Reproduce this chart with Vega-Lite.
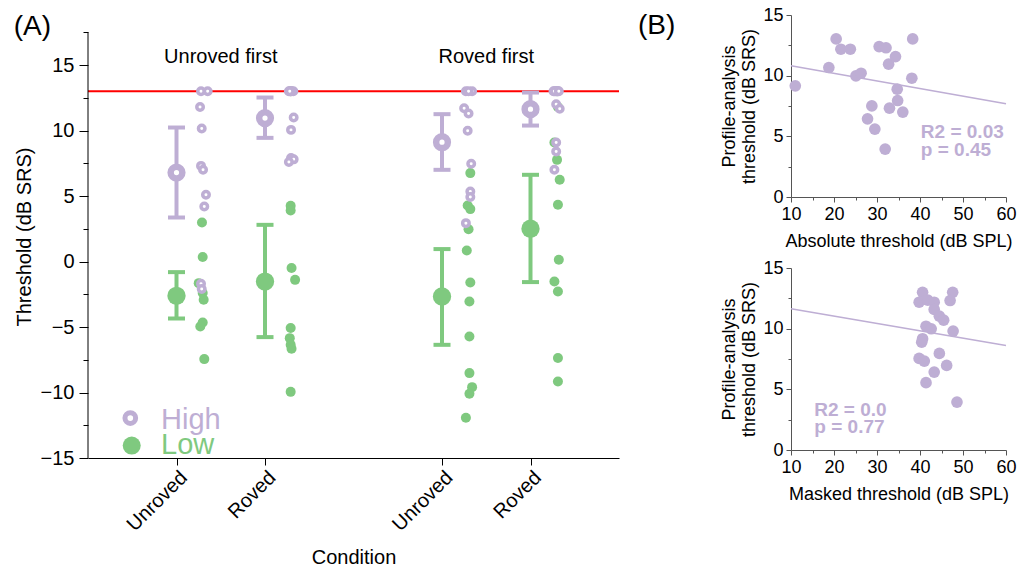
{
  "$schema": "https://vega.github.io/schema/vega-lite/v6.json",
  "padding": {"left": 13, "top": 6, "right": 2, "bottom": 2},
  "bounds": "flush",
  "spacing": 172,
  "config": {
    "font": "Liberation Sans",
    "view": {"stroke": null},
    "axis": {"grid": false, "labelFlush": false, "labelFont": "Liberation Sans", "titleFont": "Liberation Sans", "titleFontWeight": "normal"},
    "text": {"font": "Liberation Sans"}
  },
  "hconcat": [
    {
      "width": 531,
      "height": 443,
      "resolve": {"axis": {"x": "independent", "y": "independent"}},
      "data": {"values": [
        {"kind": "thr", "y": 13},
        {"kind": "ydom", "x": 0, "lo": -15, "hi": 17.5},
        {"kind": "pt", "level": "High", "x": 1.277, "y": 13},
        {"kind": "pt", "level": "High", "x": 1.352, "y": 13},
        {"kind": "pt", "level": "High", "x": 1.266, "y": 11.8},
        {"kind": "pt", "level": "High", "x": 1.285, "y": 10.15},
        {"kind": "pt", "level": "High", "x": 1.277, "y": 7.3},
        {"kind": "pt", "level": "High", "x": 1.3, "y": 7.0},
        {"kind": "pt", "level": "High", "x": 1.333, "y": 5.1},
        {"kind": "pt", "level": "High", "x": 1.314, "y": 4.2},
        {"kind": "pt", "level": "High", "x": 1.277, "y": -1.7},
        {"kind": "pt", "level": "High", "x": 1.285, "y": -2.1},
        {"kind": "pt", "level": "Low", "x": 1.288, "y": 2.98},
        {"kind": "pt", "level": "Low", "x": 1.296, "y": 0.34},
        {"kind": "pt", "level": "Low", "x": 1.251, "y": -1.65},
        {"kind": "pt", "level": "Low", "x": 1.296, "y": -2.41},
        {"kind": "pt", "level": "Low", "x": 1.307, "y": -2.92},
        {"kind": "pt", "level": "Low", "x": 1.296, "y": -4.66},
        {"kind": "pt", "level": "Low", "x": 1.269, "y": -4.96},
        {"kind": "pt", "level": "Low", "x": 1.314, "y": -7.45},
        {"kind": "pt", "level": "High", "x": 2.27, "y": 13},
        {"kind": "pt", "level": "High", "x": 2.32, "y": 13},
        {"kind": "pt", "level": "High", "x": 2.29, "y": 13},
        {"kind": "pt", "level": "High", "x": 2.3, "y": 13},
        {"kind": "pt", "level": "High", "x": 2.28, "y": 13},
        {"kind": "pt", "level": "High", "x": 2.324, "y": 11.0},
        {"kind": "pt", "level": "High", "x": 2.294, "y": 10.05},
        {"kind": "pt", "level": "High", "x": 2.294, "y": 7.9},
        {"kind": "pt", "level": "High", "x": 2.324, "y": 7.8},
        {"kind": "pt", "level": "High", "x": 2.27, "y": 7.6},
        {"kind": "pt", "level": "Low", "x": 2.29, "y": 13},
        {"kind": "pt", "level": "Low", "x": 2.29, "y": 4.25},
        {"kind": "pt", "level": "Low", "x": 2.29, "y": 3.9},
        {"kind": "pt", "level": "Low", "x": 2.3, "y": -0.5},
        {"kind": "pt", "level": "Low", "x": 2.34, "y": -1.4},
        {"kind": "pt", "level": "Low", "x": 2.29, "y": -5.08},
        {"kind": "pt", "level": "Low", "x": 2.28, "y": -5.85},
        {"kind": "pt", "level": "Low", "x": 2.29, "y": -6.36},
        {"kind": "pt", "level": "Low", "x": 2.3, "y": -6.66},
        {"kind": "pt", "level": "Low", "x": 2.29, "y": -9.95},
        {"kind": "pt", "level": "High", "x": 4.27, "y": 13},
        {"kind": "pt", "level": "High", "x": 4.34, "y": 13},
        {"kind": "pt", "level": "High", "x": 4.3, "y": 13},
        {"kind": "pt", "level": "High", "x": 4.25, "y": 11.7},
        {"kind": "pt", "level": "High", "x": 4.3, "y": 11.3},
        {"kind": "pt", "level": "High", "x": 4.29, "y": 9.98},
        {"kind": "pt", "level": "High", "x": 4.33, "y": 7.46},
        {"kind": "pt", "level": "High", "x": 4.32, "y": 5.34},
        {"kind": "pt", "level": "High", "x": 4.32, "y": 4.92},
        {"kind": "pt", "level": "High", "x": 4.27, "y": 2.93},
        {"kind": "pt", "level": "Low", "x": 4.32, "y": 6.75},
        {"kind": "pt", "level": "Low", "x": 4.29, "y": 4.27},
        {"kind": "pt", "level": "Low", "x": 4.32, "y": 4.0},
        {"kind": "pt", "level": "Low", "x": 4.3, "y": 2.47},
        {"kind": "pt", "level": "Low", "x": 4.28, "y": 0.84},
        {"kind": "pt", "level": "Low", "x": 4.32, "y": -1.6},
        {"kind": "pt", "level": "Low", "x": 4.31, "y": -3.05},
        {"kind": "pt", "level": "Low", "x": 4.31, "y": -5.73},
        {"kind": "pt", "level": "Low", "x": 4.31, "y": -8.52},
        {"kind": "pt", "level": "Low", "x": 4.34, "y": -9.59},
        {"kind": "pt", "level": "Low", "x": 4.31, "y": -10.1},
        {"kind": "pt", "level": "Low", "x": 4.27, "y": -11.93},
        {"kind": "pt", "level": "High", "x": 5.26, "y": 13},
        {"kind": "pt", "level": "High", "x": 5.31, "y": 13},
        {"kind": "pt", "level": "High", "x": 5.29, "y": 13},
        {"kind": "pt", "level": "High", "x": 5.28, "y": 13},
        {"kind": "pt", "level": "High", "x": 5.3, "y": 13},
        {"kind": "pt", "level": "High", "x": 5.27, "y": 13},
        {"kind": "pt", "level": "High", "x": 5.32, "y": 13},
        {"kind": "pt", "level": "High", "x": 5.29, "y": 12.0},
        {"kind": "pt", "level": "High", "x": 5.33, "y": 11.66},
        {"kind": "pt", "level": "High", "x": 5.29, "y": 9.08},
        {"kind": "pt", "level": "High", "x": 5.29, "y": 8.4},
        {"kind": "pt", "level": "High", "x": 5.27, "y": 7.0},
        {"kind": "pt", "level": "Low", "x": 5.3, "y": 13},
        {"kind": "pt", "level": "Low", "x": 5.31, "y": 11.8},
        {"kind": "pt", "level": "Low", "x": 5.27, "y": 9.08},
        {"kind": "pt", "level": "Low", "x": 5.3, "y": 7.76},
        {"kind": "pt", "level": "Low", "x": 5.33, "y": 6.24},
        {"kind": "pt", "level": "Low", "x": 5.31, "y": 4.33},
        {"kind": "pt", "level": "Low", "x": 5.32, "y": 0.13},
        {"kind": "pt", "level": "Low", "x": 5.27, "y": -1.53},
        {"kind": "pt", "level": "Low", "x": 5.31, "y": -2.29},
        {"kind": "pt", "level": "Low", "x": 5.31, "y": -7.37},
        {"kind": "pt", "level": "Low", "x": 5.31, "y": -9.16},
        {"kind": "mean", "level": "High", "x": 1, "y": 6.79, "lo": 3.36, "hi": 10.23},
        {"kind": "mean", "level": "Low", "x": 1, "y": -2.62, "lo": -4.35, "hi": -0.81},
        {"kind": "mean", "level": "High", "x": 2, "y": 10.95, "lo": 9.44, "hi": 12.52},
        {"kind": "mean", "level": "Low", "x": 2, "y": -1.53, "lo": -5.77, "hi": 2.8},
        {"kind": "mean", "level": "High", "x": 4, "y": 9.11, "lo": 7.0, "hi": 11.25},
        {"kind": "mean", "level": "Low", "x": 4, "y": -2.67, "lo": -6.36, "hi": 0.95},
        {"kind": "mean", "level": "High", "x": 5, "y": 11.63, "lo": 10.38, "hi": 12.9},
        {"kind": "mean", "level": "Low", "x": 5, "y": 2.5, "lo": -1.57, "hi": 6.62},
        {"kind": "lab", "x": 1.5, "y": 15.63, "text": "Unroved first"},
        {"kind": "lab", "x": 4.5, "y": 15.63, "text": "Roved first"},
        {"kind": "leg", "level": "High", "x": 0.478, "y": -11.95},
        {"kind": "leg", "level": "Low", "x": 0.494, "y": -14.05},
        {"kind": "legtxt", "level": "High", "x": 0.825, "y": -12.77, "text": "High"},
        {"kind": "legtxt", "level": "Low", "x": 0.825, "y": -14.68, "text": "Low"},
        {"kind": "panel", "x": -0.84, "y": 17.3, "text": "(A)"}
      ]},
      "layer": [
        {
          "transform": [{"filter": "datum.kind === 'thr'"}],
          "mark": {"type": "rule", "color": "#ff0000", "strokeWidth": 2},
          "encoding": {
            "y": {"field": "y", "type": "quantitative", "scale": {"domain": [-15, 18.82], "nice": false, "zero": false},
              "axis": {"orient": "left", "values": [-15, -10, -5, 0, 5, 10, 15],
                "domain": false, "tickSize": 9,
                "tickColor": "black", "labelColor": "black", "labelFontSize": 20, "labelPadding": 5,
                "title": "Threshold (dB SRS)", "titleFontSize": 20, "titleColor": "black",
                "titleX": -64, "titleY": 221.5, "titleAngle": 270, "titleAlign": "center", "titleBaseline": "middle"}}
          }
        },
        {
          "transform": [{"filter": "datum.kind === 'ydom'"}],
          "mark": {"type": "rule", "color": "black", "strokeWidth": 1},
          "encoding": {
            "x": {"field": "x", "type": "quantitative", "scale": {"domain": [0, 6], "nice": false, "zero": false}, "axis": null},
            "y": {"field": "lo", "type": "quantitative", "scale": {"domain": [-15, 18.82], "nice": false, "zero": false},
              "axis": {"orient": "left", "values": [-12.5, -7.5, -2.5, 2.5, 7.5, 12.5, 17.5], "domain": false, "labels": false, "title": null, "tickSize": 5, "tickColor": "black"}},
            "y2": {"field": "hi"}
          }
        },
        {
          "transform": [{"filter": "datum.kind === 'pt' && datum.level === 'Low'"}],
          "mark": {"type": "circle", "color": "#7fc97f", "opacity": 1, "size": 100},
          "encoding": {
            "x": {"field": "x", "type": "quantitative", "scale": {"domain": [0, 6], "nice": false, "zero": false},
              "axis": {"orient": "bottom", "values": [1, 2, 4, 5],
                "labelExpr": "datum.value === 1 || datum.value === 4 ? 'Unroved' : 'Roved'",
                "labelAngle": -45, "labelFontSize": 20, "labelColor": "black",
                "tickSize": 7, "tickColor": "black", "domainColor": "black",
                "title": "Condition", "titleFontSize": 20, "titleColor": "black", "titlePadding": 13}},
            "y": {"field": "y", "type": "quantitative", "scale": {"domain": [-15, 18.82], "nice": false, "zero": false}, "axis": null}
          }
        },
        {
          "transform": [{"filter": "datum.kind === 'pt' && datum.level === 'High'"}],
          "mark": {"type": "point", "shape": "circle", "filled": true, "fill": "white", "stroke": "#beaed4", "strokeWidth": 3.5, "size": 42, "opacity": 1},
          "encoding": {
            "x": {"field": "x", "type": "quantitative", "scale": {"domain": [0, 6], "nice": false, "zero": false}, "axis": null},
            "y": {"field": "y", "type": "quantitative", "scale": {"domain": [-15, 18.82], "nice": false, "zero": false}, "axis": null}
          }
        },
        {
          "transform": [{"filter": "datum.kind === 'mean'"}],
          "mark": {"type": "rule", "strokeWidth": 4},
          "encoding": {
            "x": {"field": "x", "type": "quantitative", "scale": {"domain": [0, 6], "nice": false, "zero": false}, "axis": null},
            "y": {"field": "lo", "type": "quantitative", "scale": {"domain": [-15, 18.82], "nice": false, "zero": false}, "axis": null},
            "y2": {"field": "hi"},
            "color": {"field": "level", "type": "nominal", "scale": {"domain": ["High", "Low"], "range": ["#beaed4", "#7fc97f"]}, "legend": null}
          }
        },
        {
          "transform": [{"filter": "datum.kind === 'mean'"}],
          "mark": {"type": "tick", "orient": "horizontal", "size": 17, "thickness": 4, "opacity": 1},
          "encoding": {
            "x": {"field": "x", "type": "quantitative", "scale": {"domain": [0, 6], "nice": false, "zero": false}, "axis": null},
            "y": {"field": "lo", "type": "quantitative", "scale": {"domain": [-15, 18.82], "nice": false, "zero": false}, "axis": null},
            "color": {"field": "level", "type": "nominal", "scale": {"domain": ["High", "Low"], "range": ["#beaed4", "#7fc97f"]}, "legend": null}
          }
        },
        {
          "transform": [{"filter": "datum.kind === 'mean'"}],
          "mark": {"type": "tick", "orient": "horizontal", "size": 17, "thickness": 4, "opacity": 1},
          "encoding": {
            "x": {"field": "x", "type": "quantitative", "scale": {"domain": [0, 6], "nice": false, "zero": false}, "axis": null},
            "y": {"field": "hi", "type": "quantitative", "scale": {"domain": [-15, 18.82], "nice": false, "zero": false}, "axis": null},
            "color": {"field": "level", "type": "nominal", "scale": {"domain": ["High", "Low"], "range": ["#beaed4", "#7fc97f"]}, "legend": null}
          }
        },
        {
          "transform": [{"filter": "datum.kind === 'mean' && datum.level === 'Low'"}],
          "mark": {"type": "circle", "color": "#7fc97f", "opacity": 1, "size": 335},
          "encoding": {
            "x": {"field": "x", "type": "quantitative", "scale": {"domain": [0, 6], "nice": false, "zero": false}, "axis": null},
            "y": {"field": "y", "type": "quantitative", "scale": {"domain": [-15, 18.82], "nice": false, "zero": false}, "axis": null}
          }
        },
        {
          "transform": [{"filter": "datum.kind === 'mean' && datum.level === 'High'"}],
          "mark": {"type": "point", "shape": "circle", "filled": true, "fill": "white", "stroke": "#beaed4", "strokeWidth": 6.5, "size": 137, "opacity": 1},
          "encoding": {
            "x": {"field": "x", "type": "quantitative", "scale": {"domain": [0, 6], "nice": false, "zero": false}, "axis": null},
            "y": {"field": "y", "type": "quantitative", "scale": {"domain": [-15, 18.82], "nice": false, "zero": false}, "axis": null}
          }
        },
        {
          "transform": [{"filter": "datum.kind === 'lab'"}],
          "mark": {"type": "text", "fontSize": 20, "color": "black", "align": "center", "baseline": "middle"},
          "encoding": {
            "x": {"field": "x", "type": "quantitative", "scale": {"domain": [0, 6], "nice": false, "zero": false}, "axis": null},
            "y": {"field": "y", "type": "quantitative", "scale": {"domain": [-15, 18.82], "nice": false, "zero": false}, "axis": null},
            "text": {"field": "text"}
          }
        },
        {
          "transform": [{"filter": "datum.kind === 'leg' && datum.level === 'Low'"}],
          "mark": {"type": "circle", "color": "#7fc97f", "opacity": 1, "size": 324},
          "encoding": {
            "x": {"field": "x", "type": "quantitative", "scale": {"domain": [0, 6], "nice": false, "zero": false}, "axis": null},
            "y": {"field": "y", "type": "quantitative", "scale": {"domain": [-15, 18.82], "nice": false, "zero": false}, "axis": null}
          }
        },
        {
          "transform": [{"filter": "datum.kind === 'leg' && datum.level === 'High'"}],
          "mark": {"type": "point", "shape": "circle", "filled": true, "fill": "white", "stroke": "#beaed4", "strokeWidth": 5, "size": 114, "opacity": 1},
          "encoding": {
            "x": {"field": "x", "type": "quantitative", "scale": {"domain": [0, 6], "nice": false, "zero": false}, "axis": null},
            "y": {"field": "y", "type": "quantitative", "scale": {"domain": [-15, 18.82], "nice": false, "zero": false}, "axis": null}
          }
        },
        {
          "transform": [{"filter": "datum.kind === 'legtxt'"}],
          "mark": {"type": "text", "fontSize": 29, "align": "left", "baseline": "alphabetic"},
          "encoding": {
            "x": {"field": "x", "type": "quantitative", "scale": {"domain": [0, 6], "nice": false, "zero": false}, "axis": null},
            "y": {"field": "y", "type": "quantitative", "scale": {"domain": [-15, 18.82], "nice": false, "zero": false}, "axis": null},
            "text": {"field": "text"},
            "color": {"field": "level", "type": "nominal", "scale": {"domain": ["High", "Low"], "range": ["#beaed4", "#7fc97f"]}, "legend": null}
          }
        },
        {
          "transform": [{"filter": "datum.kind === 'panel'"}],
          "mark": {"type": "text", "fontSize": 28, "color": "black", "align": "left", "baseline": "alphabetic"},
          "encoding": {
            "x": {"field": "x", "type": "quantitative", "scale": {"domain": [0, 6], "nice": false, "zero": false}, "axis": null},
            "y": {"field": "y", "type": "quantitative", "scale": {"domain": [-15, 18.82], "nice": false, "zero": false}, "axis": null},
            "text": {"field": "text"}
          }
        }
      ]
    },
    {
      "spacing": 71,
      "bounds": "flush",
      "vconcat": [
        {
          "width": 215,
          "height": 182,
          "resolve": {"axis": {"x": "independent", "y": "independent"}},
          "data": {"values": [
            {"kind": "fit", "x": 10, "y": 10.81},
            {"kind": "fit", "x": 60, "y": 7.68},
            {"kind": "pt", "x": 11.0, "y": 9.16},
            {"kind": "pt", "x": 18.8, "y": 10.67},
            {"kind": "pt", "x": 20.5, "y": 13.03},
            {"kind": "pt", "x": 21.6, "y": 12.18},
            {"kind": "pt", "x": 23.8, "y": 12.18},
            {"kind": "pt", "x": 25.1, "y": 9.98},
            {"kind": "pt", "x": 26.3, "y": 10.2},
            {"kind": "pt", "x": 27.8, "y": 6.44},
            {"kind": "pt", "x": 28.8, "y": 7.51},
            {"kind": "pt", "x": 29.5, "y": 5.6},
            {"kind": "pt", "x": 30.5, "y": 12.4},
            {"kind": "pt", "x": 32.1, "y": 12.3},
            {"kind": "pt", "x": 31.9, "y": 3.95},
            {"kind": "pt", "x": 32.7, "y": 10.95},
            {"kind": "pt", "x": 32.9, "y": 7.32},
            {"kind": "pt", "x": 34.3, "y": 11.57},
            {"kind": "pt", "x": 34.7, "y": 8.89},
            {"kind": "pt", "x": 34.8, "y": 7.95},
            {"kind": "pt", "x": 36.0, "y": 7.0},
            {"kind": "pt", "x": 38.3, "y": 13.03},
            {"kind": "pt", "x": 38.1, "y": 9.79},
            {"kind": "stat", "x": 40.2, "y": 4.9, "text": "R2 = 0.03"},
            {"kind": "stat", "x": 40.2, "y": 3.42, "text": "p = 0.45"},
            {"kind": "panel", "x": -25.58, "y": 13.4, "text": "(B)"}
          ]},
          "layer": [
            {
              "transform": [{"filter": "datum.kind === 'fit'"}],
              "mark": {"type": "line", "color": "#beaed4", "strokeWidth": 1.5},
              "encoding": {
                "x": {"field": "x", "type": "quantitative", "scale": {"domain": [10, 60], "nice": false, "zero": false},
                  "axis": {"orient": "bottom", "values": [10, 20, 30, 40, 50, 60], "tickSize": 5,
                    "domainColor": "#555", "tickColor": "#555", "labelColor": "black", "labelFontSize": 18, "labelPadding": 3,
                    "title": "Absolute threshold (dB SPL)", "titleFontSize": 18, "titleColor": "black", "titlePadding": 9}},
                "y": {"field": "y", "type": "quantitative", "scale": {"domain": [0, 15], "nice": false, "zero": false},
                  "axis": {"orient": "left", "values": [0, 5, 10, 15], "tickSize": 5,
                    "domainColor": "#555", "tickColor": "#555", "labelColor": "black", "labelFontSize": 18, "labelPadding": 3,
                    "title": ["Profile-analysis", "threshold (dB SRS)"], "titleFontSize": 18, "titleColor": "black"}}
              }
            },
            {
              "transform": [{"filter": "datum.kind === 'pt'"}],
              "mark": {"type": "circle", "color": "#beaed4", "opacity": 1, "size": 136},
              "encoding": {
                "x": {"field": "x", "type": "quantitative", "scale": {"domain": [10, 60], "nice": false, "zero": false},
                  "axis": {"orient": "bottom", "values": [15, 25, 35, 45, 55], "tickSize": 3, "tickColor": "#555", "domain": false, "labels": false, "title": null}},
                "y": {"field": "y", "type": "quantitative", "scale": {"domain": [0, 15], "nice": false, "zero": false},
                  "axis": {"orient": "left", "values": [2.5, 7.5, 12.5], "tickSize": 3, "tickColor": "#555", "domain": false, "labels": false, "title": null}}
              }
            },
            {
              "transform": [{"filter": "datum.kind === 'stat'"}],
              "mark": {"type": "text", "fontSize": 19, "fontWeight": "bold", "color": "#beaed4", "align": "left", "baseline": "alphabetic"},
              "encoding": {
                "x": {"field": "x", "type": "quantitative", "scale": {"domain": [10, 60], "nice": false, "zero": false}, "axis": null},
                "y": {"field": "y", "type": "quantitative", "scale": {"domain": [0, 15], "nice": false, "zero": false}, "axis": null},
                "text": {"field": "text"}
              }
            },
            {
              "transform": [{"filter": "datum.kind === 'panel'"}],
              "mark": {"type": "text", "fontSize": 28, "color": "black", "align": "left", "baseline": "alphabetic"},
              "encoding": {
                "x": {"field": "x", "type": "quantitative", "scale": {"domain": [10, 60], "nice": false, "zero": false}, "axis": null},
                "y": {"field": "y", "type": "quantitative", "scale": {"domain": [0, 15], "nice": false, "zero": false}, "axis": null},
                "text": {"field": "text"}
              }
            }
          ]
        },
        {
          "width": 215,
          "height": 182,
          "resolve": {"axis": {"x": "independent", "y": "independent"}},
          "data": {"values": [
            {"kind": "fit", "x": 10, "y": 11.64},
            {"kind": "fit", "x": 60, "y": 8.62},
            {"kind": "pt", "x": 40.6, "y": 13.0},
            {"kind": "pt", "x": 39.8, "y": 12.18},
            {"kind": "pt", "x": 41.8, "y": 12.35},
            {"kind": "pt", "x": 43.3, "y": 12.18},
            {"kind": "pt", "x": 47.6, "y": 13.0},
            {"kind": "pt", "x": 47.0, "y": 12.32},
            {"kind": "pt", "x": 43.3, "y": 11.58},
            {"kind": "pt", "x": 44.5, "y": 11.03},
            {"kind": "pt", "x": 45.5, "y": 10.7},
            {"kind": "pt", "x": 41.4, "y": 10.2},
            {"kind": "pt", "x": 42.6, "y": 9.99},
            {"kind": "pt", "x": 47.7, "y": 9.8},
            {"kind": "pt", "x": 40.6, "y": 9.17},
            {"kind": "pt", "x": 40.4, "y": 8.89},
            {"kind": "pt", "x": 39.8, "y": 7.55},
            {"kind": "pt", "x": 41.0, "y": 7.33},
            {"kind": "pt", "x": 44.5, "y": 7.96},
            {"kind": "pt", "x": 46.2, "y": 6.97},
            {"kind": "pt", "x": 43.3, "y": 6.42},
            {"kind": "pt", "x": 41.4, "y": 5.55},
            {"kind": "pt", "x": 48.6, "y": 3.95},
            {"kind": "stat", "x": 15.42, "y": 2.8, "text": "R2 = 0.0"},
            {"kind": "stat", "x": 15.42, "y": 1.37, "text": "p = 0.77"}
          ]},
          "layer": [
            {
              "transform": [{"filter": "datum.kind === 'fit'"}],
              "mark": {"type": "line", "color": "#beaed4", "strokeWidth": 1.5},
              "encoding": {
                "x": {"field": "x", "type": "quantitative", "scale": {"domain": [10, 60], "nice": false, "zero": false},
                  "axis": {"orient": "bottom", "values": [10, 20, 30, 40, 50, 60], "tickSize": 5,
                    "domainColor": "#555", "tickColor": "#555", "labelColor": "black", "labelFontSize": 18, "labelPadding": 3,
                    "title": "Masked threshold (dB SPL)", "titleFontSize": 18, "titleColor": "black", "titlePadding": 9}},
                "y": {"field": "y", "type": "quantitative", "scale": {"domain": [0, 15], "nice": false, "zero": false},
                  "axis": {"orient": "left", "values": [0, 5, 10, 15], "tickSize": 5,
                    "domainColor": "#555", "tickColor": "#555", "labelColor": "black", "labelFontSize": 18, "labelPadding": 3,
                    "title": ["Profile-analysis", "threshold (dB SRS)"], "titleFontSize": 18, "titleColor": "black"}}
              }
            },
            {
              "transform": [{"filter": "datum.kind === 'pt'"}],
              "mark": {"type": "circle", "color": "#beaed4", "opacity": 1, "size": 136},
              "encoding": {
                "x": {"field": "x", "type": "quantitative", "scale": {"domain": [10, 60], "nice": false, "zero": false},
                  "axis": {"orient": "bottom", "values": [15, 25, 35, 45, 55], "tickSize": 3, "tickColor": "#555", "domain": false, "labels": false, "title": null}},
                "y": {"field": "y", "type": "quantitative", "scale": {"domain": [0, 15], "nice": false, "zero": false},
                  "axis": {"orient": "left", "values": [2.5, 7.5, 12.5], "tickSize": 3, "tickColor": "#555", "domain": false, "labels": false, "title": null}}
              }
            },
            {
              "transform": [{"filter": "datum.kind === 'stat'"}],
              "mark": {"type": "text", "fontSize": 19, "fontWeight": "bold", "color": "#beaed4", "align": "left", "baseline": "alphabetic"},
              "encoding": {
                "x": {"field": "x", "type": "quantitative", "scale": {"domain": [10, 60], "nice": false, "zero": false}, "axis": null},
                "y": {"field": "y", "type": "quantitative", "scale": {"domain": [0, 15], "nice": false, "zero": false}, "axis": null},
                "text": {"field": "text"}
              }
            }
          ]
        }
      ]
    }
  ]
}
